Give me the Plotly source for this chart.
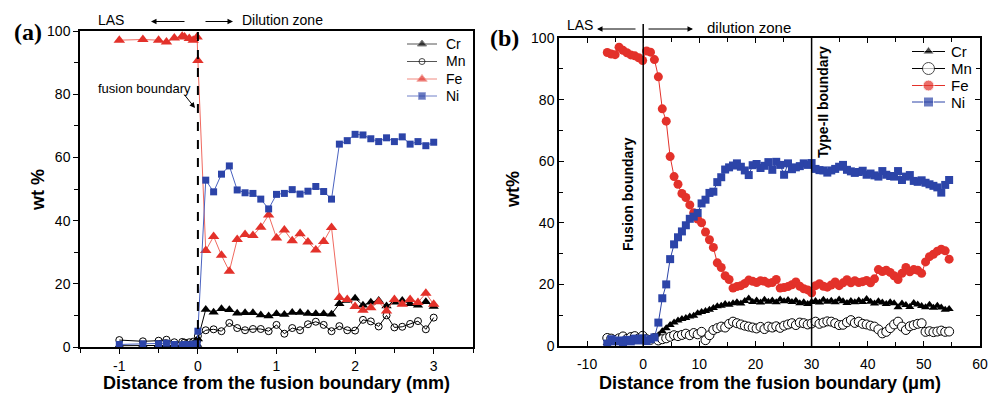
import plotly.graph_objects as go

# ---------------- Panel (a) data (mm) ----------------
xa = [-1.0, -0.7, -0.5, -0.4, -0.3, -0.2, -0.17, -0.11, -0.06, -0.01, 0.0,
      0.1, 0.2, 0.3, 0.4, 0.5, 0.6, 0.7, 0.8, 0.9, 1.0,
      1.1, 1.2, 1.3, 1.4, 1.5, 1.6, 1.7, 1.8, 1.9, 2.0,
      2.1, 2.2, 2.3, 2.4, 2.5, 2.6, 2.7, 2.8, 2.9, 3.0]
cr_a = [0.4, 0.5, 0.6, 0.5, 0.4, 0.5, 0.6, 0.5, 0.6, 0.8, 2.5,
        11.9, 11.0, 12.1, 11.8, 10.7, 10.8, 10.8, 10.1, 9.8, 10.5,
        10.3, 10.9, 10.9, 10.6, 10.5, 10.5, 10.4, 13.7, 14.7, 15.4,
        13.2, 14.2, 14.7, 13.0, 14.2, 14.7, 13.7, 13.2, 14.3, 12.8]
mn_a = [2.2, 1.8, 2.0, 2.3, 1.5, 1.6, 1.4, 1.5, 1.7, 2.0, 3.5,
        5.3, 5.6, 5.0, 7.6, 6.0, 5.3, 5.7, 5.7, 5.0, 7.0,
        4.2, 6.0, 5.3, 7.2, 8.0, 7.0, 5.0, 6.6, 5.3, 5.2,
        8.6, 8.1, 6.5, 10.0, 6.2, 6.4, 7.3, 8.2, 5.6, 9.3]
fe_a = [97.1, 97.3, 97.1, 96.5, 97.8, 98.3, 98.1, 97.6, 97.1, 98.1, 90.7,
        30.5, 35.0, 29.0, 24.0, 34.0, 35.6, 35.3, 37.9, 41.8, 34.5,
        37.0, 33.6, 35.8, 33.2, 30.7, 33.4, 37.8, 15.7, 15.0, 12.8,
        11.6, 12.4, 14.3, 11.4, 15.0, 13.5, 15.0, 14.1, 17.0, 13.5]
ni_a = [0.8, 1.0, 1.0, 1.2, 0.8, 0.6, 0.8, 0.7, 0.9, 1.0, 5.0,
        52.8, 49.1, 54.7, 57.3, 49.7, 48.8, 48.6, 46.8, 43.7, 48.3,
        48.6, 49.8, 48.4, 49.3, 50.8, 49.2, 46.8, 64.2, 65.3, 67.3,
        67.1, 65.9, 65.0, 66.2, 65.0, 66.5, 64.2, 65.0, 63.7, 64.8]
xticks_a = [-1, 0, 1, 2, 3]
xticklabels_a = ["-1", "0", "1", "2", "3"]

# ---------------- Panel (b) data (um) ----------------
xb = [-6.4, -5.7, -5.0, -4.3, -3.6, -2.9, -2.2, -1.5, -0.8, -0.1,
      0.6, 1.3, 2.0, 2.7, 3.4, 4.1, 4.8, 5.5, 6.2, 6.9,
      7.6, 8.3, 9.0, 9.7, 10.4, 11.1, 11.8, 12.5, 13.2, 13.9,
      14.6, 15.3, 16.0, 16.7, 17.4, 18.1, 18.8, 19.5, 20.2, 20.9,
      21.6, 22.3, 23.0, 23.7, 24.4, 25.1, 25.8, 26.5, 27.2, 27.9,
      28.6, 29.3, 30.0, 30.7, 31.4, 32.1, 32.8, 33.5, 34.2, 34.9,
      35.6, 36.3, 37.0, 37.7, 38.4, 39.1, 39.8, 40.5, 41.2, 41.9,
      42.6, 43.3, 44.0, 44.7, 45.4, 46.1, 46.8, 47.5, 48.2, 48.9,
      49.6, 50.3, 51.0, 51.7, 52.4, 53.1, 53.8, 54.5]
fe_b = [95.3, 94.8, 94.6, 97.0, 96.0, 95.2, 94.5, 94.2, 93.6, 92.7,
        95.8, 95.4, 93.0, 87.4, 77.0, 73.0, 61.5, 55.0, 52.5, 49.5,
        48.2, 45.8, 43.3, 41.2, 40.0, 37.0, 34.5, 32.0, 27.0, 25.5,
        22.8, 21.6, 18.8, 19.3, 19.6, 20.3, 21.4, 21.0, 20.6, 21.2,
        21.0, 20.4, 20.6, 21.6, 18.8, 19.0, 19.3, 19.9, 20.8, 19.4,
        18.6, 18.2, 17.3, 19.6, 20.2, 19.4, 19.1, 19.8, 20.8, 19.6,
        20.5, 21.5, 20.5, 21.2, 20.6, 20.9, 21.3, 20.5, 21.8, 24.8,
        24.2, 24.6, 23.9, 22.8, 21.6, 23.6, 25.5, 24.1, 24.8, 24.6,
        23.6, 27.3, 29.0, 29.8, 30.8, 31.4, 30.9, 28.2]
ni_b = [0.8, 2.2, 1.5, 1.8, 1.2, 2.0, 1.5, 2.4, 1.8, 2.5,
        1.6, 2.2, 2.8, 7.6, 15.5, 20.0, 28.2, 33.0, 35.3, 37.2,
        39.2, 41.3, 42.0, 43.2, 46.3, 47.5, 49.7, 50.1, 53.2, 54.8,
        57.3, 58.0, 58.6, 59.3, 58.2, 57.0, 55.5, 58.7, 59.1, 57.8,
        58.5, 59.7, 57.2, 59.8, 58.8, 55.6, 59.3, 57.4, 58.0, 58.4,
        59.3, 58.8, 59.4, 57.5, 57.1, 57.0, 56.3, 57.0, 57.5, 58.2,
        58.8, 57.2, 56.7, 56.2, 56.5, 56.9, 55.6, 56.0, 55.4, 55.0,
        56.8, 55.6, 55.2, 55.0, 56.8, 53.9, 55.0, 55.5, 53.6, 53.3,
        53.8, 53.0, 52.5, 52.0, 51.5, 49.8, 52.3, 53.9]
cr_b = [1.0, 1.5, 1.2, 1.6, 1.3, 1.5, 1.4, 1.7, 1.5, 1.8,
        1.6, 2.0, 2.4, 3.5, 4.8, 5.8, 6.8, 7.6, 8.3, 8.8,
        9.1, 9.6, 9.8, 10.6, 11.0, 11.4, 11.8, 12.3, 12.9, 13.1,
        13.6, 13.4, 13.9, 14.2, 13.8, 14.6, 15.4, 14.3, 14.8, 14.1,
        15.0, 14.4, 14.8, 14.2, 15.1, 14.5, 14.9, 14.3, 14.7, 13.9,
        14.2, 13.6, 14.3, 14.6, 14.1, 15.0, 14.4, 14.7, 14.2, 15.1,
        14.5, 14.0, 14.6, 14.2, 14.8, 14.3, 15.3, 14.4, 13.8, 14.5,
        14.1, 13.6, 14.2, 13.9, 12.6, 13.8, 13.3, 12.7, 14.0, 13.5,
        13.0, 12.6, 13.4, 12.4, 13.1, 12.5, 11.8, 12.0]
mn_b = [2.6, 2.4, 2.0, 2.5, 3.1, 2.3, 2.9, 3.2, 2.5, 3.3,
        2.2, 2.0, 2.6, 1.8, 2.2, 2.5, 3.0, 3.5, 3.2, 3.6,
        4.0, 3.5, 4.2, 3.8, 4.6, 1.9, 3.5, 5.2, 5.8, 6.3,
        6.0, 7.2, 7.9, 7.4, 7.0, 6.6, 6.3, 6.0, 5.7, 6.2,
        5.5, 6.3, 6.0, 6.4, 5.9, 6.6, 7.0, 7.4, 6.8, 7.6,
        7.4, 7.0, 7.3, 7.9, 7.2, 7.6, 8.0, 7.9, 7.4, 6.8,
        6.9, 7.7, 8.4, 7.5, 7.9, 7.2, 7.0, 6.6, 6.3, 5.4,
        4.1, 4.6, 5.8, 7.0, 7.9, 6.3, 5.2, 6.4, 6.8, 7.2,
        7.4, 4.6, 4.8, 4.5, 4.7, 5.0, 4.6, 4.7]
xticks_b = [-10, 0, 10, 20, 30, 40, 50, 60]
xticklabels_b = ["-10", "0", "10", "20", "30", "40", "50", "60"]

elements = ["Cr", "Mn", "Fe", "Ni"]

RED = "#E3312A"
RED_LINE = "#F06A60"
BLUE = "#2C44A8"
BLUE_LINE = "#4A62C0"
FONT = "Liberation Sans, Arial, sans-serif"

# page body has an 8px margin: the figure occupies page pixels 8..1002 x 8..396
OFF = 8
W, H = 1002 - OFF, 396 - OFF
def px(x):
    return (x - OFF) / W
def py(y):
    return (396 - y) / H

style_a = {
    "Cr": dict(line=dict(color="black", width=1), marker=dict(symbol="triangle-up", size=9, color="black")),
    "Mn": dict(line=dict(color="black", width=1), marker=dict(symbol="circle-open", size=7, color="black", line=dict(width=1))),
    "Fe": dict(line=dict(color=RED_LINE, width=1), marker=dict(symbol="triangle-up", size=10, color=RED)),
    "Ni": dict(line=dict(color=BLUE_LINE, width=1), marker=dict(symbol="square", size=7, color=BLUE)),
}
style_b = {
    "Cr": dict(line=dict(color="black", width=1), marker=dict(symbol="triangle-up", size=8, color="black")),
    "Mn": dict(line=dict(color="black", width=1), marker=dict(symbol="circle", size=9, color="white", line=dict(width=1, color="black"))),
    "Fe": dict(line=dict(color=RED, width=1), marker=dict(symbol="circle", size=9, color=RED)),
    "Ni": dict(line=dict(color=BLUE, width=1), marker=dict(symbol="square", size=8, color=BLUE)),
}
legend_size_a = {"Cr": 8, "Mn": 6, "Fe": 9, "Ni": 7}
legend_size_b = {"Cr": 10, "Mn": 12, "Fe": 11, "Ni": 10}
legend_line_a = {"Cr": "#555555", "Mn": "#555555", "Fe": "#F08A80", "Ni": "#7080C8"}
legend_line_b = {"Cr": "black", "Mn": "black", "Fe": RED, "Ni": BLUE}

data_a = {"Cr": cr_a, "Mn": mn_a, "Fe": fe_a, "Ni": ni_a}
data_b = {"Cr": cr_b, "Mn": mn_b, "Fe": fe_b, "Ni": ni_b}

fig = go.Figure()
for el in elements:
    fig.add_trace(go.Scatter(x=xa, y=data_a[el], name=el, mode="lines+markers",
                             xaxis="x", yaxis="y", showlegend=False, **style_a[el]))
for el in elements:
    fig.add_trace(go.Scatter(x=xb, y=data_b[el], name=el, mode="lines+markers",
                             xaxis="x2", yaxis="y2", showlegend=False, **style_b[el]))

# ---- hand-placed legend keys on an overlay axis measured in page pixels ----
leg_a = dict(x0=407, x1=437, y=[44, 61.5, 79, 96], tx=444, sizes=legend_size_a, lines=legend_line_a)
leg_b = dict(x0=912, x1=945, y=[51.5, 68.5, 85.5, 102], tx=949, sizes=legend_size_b, lines=legend_line_b)
for leg, sty in ((leg_a, style_a), (leg_b, style_b)):
    for el, yy in zip(elements, leg["y"]):
        mk = dict(sty[el]["marker"])
        mk["size"] = [0, leg["sizes"][el], 0]
        fig.add_trace(go.Scatter(x=[leg["x0"], (leg["x0"] + leg["x1"]) / 2, leg["x1"]],
                                 y=[yy, yy, yy], mode="lines+markers",
                                 line=dict(color=leg["lines"][el], width=1), marker=mk,
                                 xaxis="x3", yaxis="y3", showlegend=False, hoverinfo="skip"))

def axis_style(tick_dir, mirror):
    return dict(showline=True, linecolor="black", linewidth=1.5, mirror=mirror,
                ticks=tick_dir, ticklen=5, tickwidth=1.2, tickcolor="black",
                showgrid=False, zeroline=False, automargin=False,
                tickfont=dict(family=FONT, size=14, color="black"))

fig.update_layout(
    width=W, height=H,
    margin=dict(l=0, r=0, t=0, b=0, autoexpand=False),
    paper_bgcolor="white", plot_bgcolor="rgba(0,0,0,0)",
    font=dict(family=FONT, color="black"),
    showlegend=False,
    xaxis=dict(domain=[px(80), px(473)], range=[-1.5, 3.5],
               tickmode="array", tickvals=xticks_a, ticktext=xticklabels_a,
               minor=dict(dtick=0.5, tick0=-1.5, ticks="outside", ticklen=4, tickcolor="black"),
               anchor="y", **axis_style("outside", True)),
    yaxis=dict(domain=[py(347), py(31)], range=[0, 100], dtick=20,
               minor=dict(dtick=10, ticks="outside", ticklen=4, tickcolor="black"),
               anchor="x", **axis_style("outside", True)),
    xaxis2=dict(domain=[px(559), px(980)], range=[-15, 60],
                tickmode="array", tickvals=xticks_b, ticktext=xticklabels_b,
                minor=dict(dtick=5, tick0=-15, ticks="inside", ticklen=4, tickcolor="black"),
                anchor="y2", ticklabelstandoff=4, **axis_style("inside", "ticks")),
    yaxis2=dict(domain=[py(346), py(38)], range=[0, 100], dtick=20,
                minor=dict(dtick=10, ticks="inside", ticklen=4, tickcolor="black"),
                anchor="x2", **axis_style("inside", "ticks")),
    xaxis3=dict(domain=[0, 1], range=[OFF, 1002], visible=False, fixedrange=True, anchor="y3"),
    yaxis3=dict(domain=[0, 1], range=[396, OFF], visible=False, fixedrange=True, anchor="x3"),
)

# ---- shapes ----
fig.add_shape(type="line", xref="x", yref="paper", x0=0, x1=0, y0=py(347), y1=py(26),
              line=dict(color="black", width=2, dash="dash"))
fig.add_shape(type="line", xref="x2", yref="paper", x0=0, x1=0, y0=py(346), y1=py(24),
              line=dict(color="black", width=1.5))
fig.add_shape(type="line", xref="x2", yref="y2", x0=30, x1=30, y0=0, y1=100,
              line=dict(color="black", width=1.5))

ann = []
def text(x, y, s, size=14, bold=False, family=FONT, angle=0, xanchor="center"):
    t = "<b>%s</b>" % s if bold else s
    ann.append(dict(x=px(x), y=py(y), xref="paper", yref="paper", text=t, showarrow=False,
                    font=dict(family=family, size=size, color="black"), textangle=angle,
                    xanchor=xanchor, yanchor="middle"))
def arrow(xh, yh, dx, dy):
    ann.append(dict(x=px(xh), y=py(yh), xref="paper", yref="paper", text="", showarrow=True,
                    ax=dx, ay=dy, arrowhead=2, arrowsize=1.1, arrowwidth=1, arrowcolor="black"))

# legend labels
for el, yy in zip(elements, leg_a["y"]):
    text(leg_a["tx"], yy, el, size=14, xanchor="left")
for el, yy in zip(elements, leg_b["y"]):
    text(leg_b["tx"], yy, el, size=15, xanchor="left")

# panel (a) annotations
text(28, 32, "(a)", size=24, bold=True, family="Liberation Serif, Times New Roman, serif")
text(111, 20, "LAS", size=14)
arrow(151, 21.5, 35, 0)
arrow(233, 21.5, -29, 0)
text(282, 20, "Dilution zone", size=14)
text(144, 88, "fusion boundary", size=13)
arrow(195, 108, -12, -15)
text(38, 190, "wt %", size=18, bold=True, angle=-90)
text(276, 383, "Distance from the fusion boundary (mm)", size=18, bold=True)

# panel (b) annotations
text(504, 38, "(b)", size=24, bold=True, family="Liberation Serif, Times New Roman, serif")
text(580, 25, "LAS", size=14)
arrow(597, 29, 40, 0)
arrow(693, 29, -46, 0)
text(749, 27, "dilution zone", size=15)
text(628, 194, "Fusion boundary", size=14, bold=True, angle=-90)
text(823, 102, "Type-II boundary", size=14, bold=True, angle=-90)
text(513, 190, "wt%", size=18, bold=True, angle=-90)
text(770, 383, "Distance from the fusion boundary (μm)", size=18, bold=True)

fig.update_layout(annotations=ann)

fig.write_html("out.html")
